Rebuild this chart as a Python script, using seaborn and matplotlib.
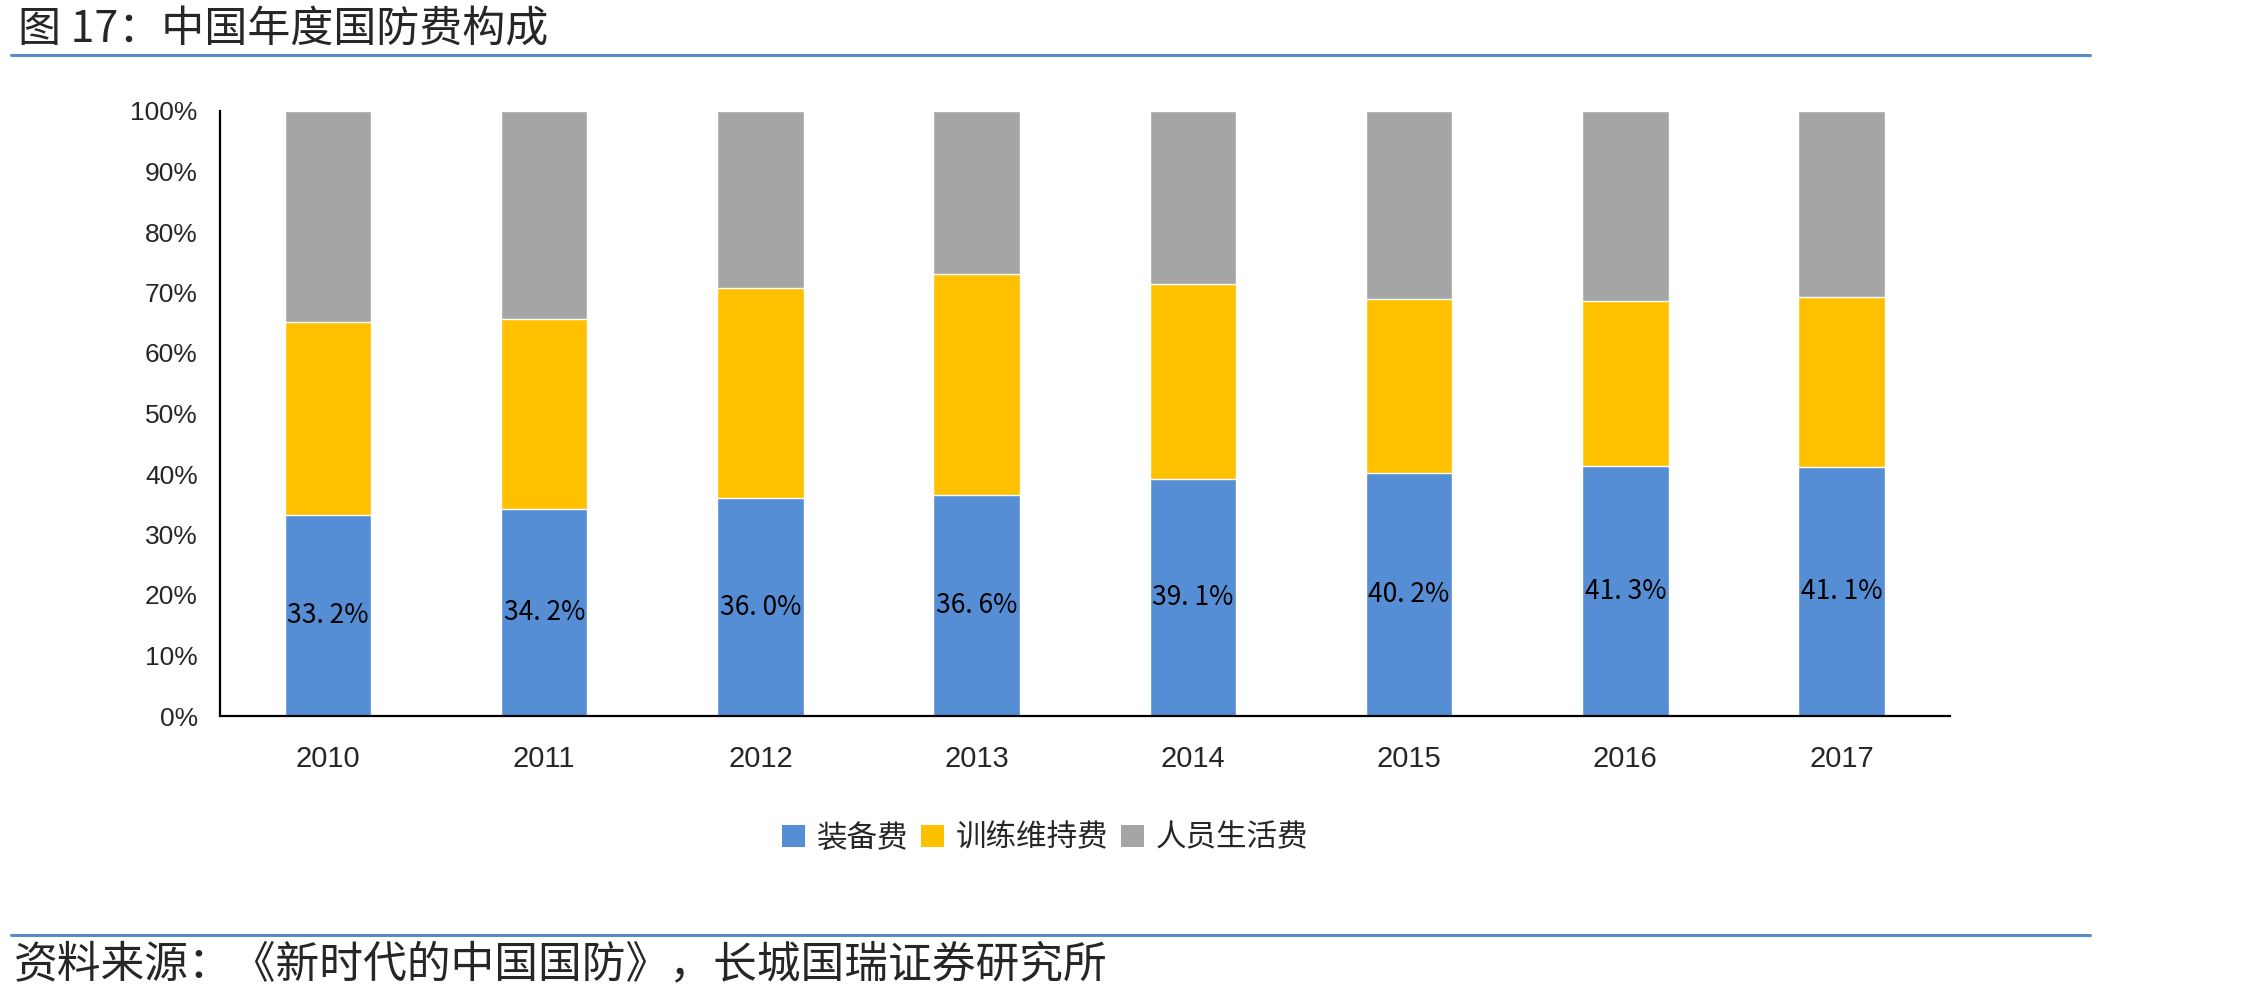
import numpy as np
import pandas as pd
import matplotlib
matplotlib.use("Agg")
import matplotlib.pyplot as plt
import seaborn as sns
from matplotlib.patches import Patch

years = ["2010", "2011", "2012", "2013", "2014", "2015", "2016", "2017"]
equipment = [33.2, 34.2, 36.0, 36.6, 39.1, 40.2, 41.3, 41.1]   # 装备费
training = [31.9, 31.5, 34.8, 36.4, 32.3, 28.8, 27.3, 28.1]    # 训练维持费
personnel = [34.9, 34.3, 29.2, 27.0, 28.6, 31.0, 31.4, 30.8]   # 人员生活费
series_names = ["装备费", "训练维持费", "人员生活费"]
y_ticks = [0, 10, 20, 30, 40, 50, 60, 70, 80, 90, 100]

colors = ["#558ED5", "#FFC000", "#A5A5A5"]

sns.set_style("white")
plt.rcParams["font.family"] = ["Noto Sans CJK SC", "DejaVu Sans"]

df = pd.DataFrame({"year": years, "eq": equipment, "tr": training, "pe": personnel})
df["s1"] = df["eq"] / 100
df["s2"] = (df["eq"] + df["tr"]) / 100
df["s3"] = (df["eq"] + df["tr"] + df["pe"]) / 100
df["s3"] = df["s3"].clip(upper=1.0)

fig = plt.figure(figsize=(22.67, 10), dpi=100)
ax = fig.add_axes([0.097, 0.284, 0.763, 0.605])

# stacked look: draw cumulative totals from the top down
sns.barplot(data=df, x="year", y="s3", color=colors[2], width=0.4, ax=ax, saturation=1)
sns.barplot(data=df, x="year", y="s2", color=colors[1], width=0.4, ax=ax, saturation=1)
sns.barplot(data=df, x="year", y="s1", color=colors[0], width=0.4, ax=ax, saturation=1)

for i, v in enumerate(equipment):
    ax.text(i, v / 200, f"{v:.1f}%".replace(".", ". "), ha="center", va="center",
            fontsize=19, color="black", family=["Noto Sans CJK SC", "DejaVu Sans"])

ax.set_xlim(-0.5, len(years) - 0.5)
ax.set_ylim(0, 1.0)
ax.set_yticks([t / 100 for t in y_ticks])
ax.set_yticklabels([f"{t}%" for t in y_ticks], fontsize=19, family="Liberation Sans")

ax.set_xticks(np.arange(-0.5, len(years), 1.0))
ax.set_xticklabels([])
ax.set_xticks(np.arange(len(years)), minor=True)
ax.set_xticklabels(years, minor=True, fontsize=21, family="Liberation Sans")
ax.tick_params(axis="x", which="major", direction="in", length=9, width=1.5, color="black")
ax.tick_params(axis="x", which="minor", length=0, pad=21)
ax.tick_params(axis="y", direction="in", length=9, width=1.5, color="black", pad=16)

ax.set_xlabel("")
ax.set_ylabel("")
for s in ["top", "right"]:
    ax.spines[s].set_visible(False)
for s in ["left", "bottom"]:
    ax.spines[s].set_color("black")
    ax.spines[s].set_linewidth(1.6)

handles = [Patch(facecolor=c, edgecolor="none") for c in colors]
fig.legend(handles, series_names, loc="center", bbox_to_anchor=(0.461, 0.162), ncol=3,
           frameon=False, fontsize=22, handlelength=0.75, handleheight=0.75,
           handletextpad=0.4, columnspacing=0.4)

fig.text(0.008, 0.97, "图 17：中国年度国防费构成", fontsize=31, va="center", ha="left")
fig.add_artist(plt.Line2D([0.005, 0.922], [0.945, 0.945], color="#5B8CC8", lw=2.2))
fig.add_artist(plt.Line2D([0.005, 0.922], [0.065, 0.065], color="#5B8CC8", lw=2.2))
fig.text(0.006, 0.036, "资料来源：《新时代的中国国防》，长城国瑞证券研究所", fontsize=31.5,
         va="center", ha="left")

fig.savefig("out.png", dpi=100, facecolor="white")
